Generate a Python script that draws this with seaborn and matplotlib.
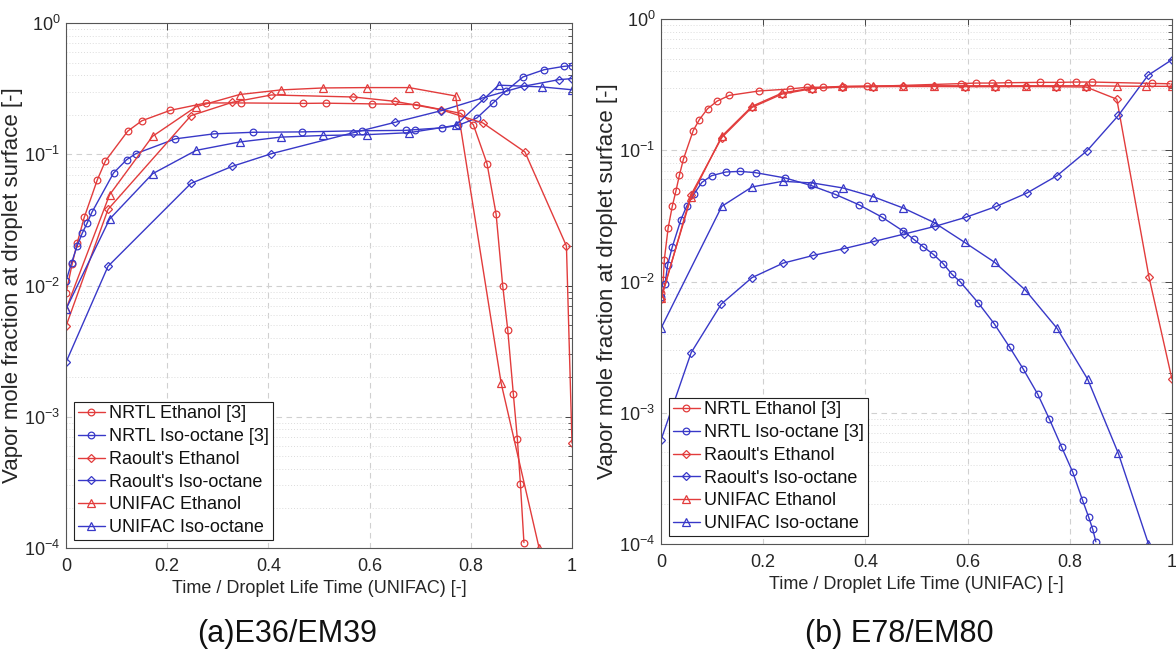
import numpy as np
import pandas as pd
import matplotlib
matplotlib.use("Agg")
import matplotlib.pyplot as plt
import seaborn as sns
from matplotlib.ticker import LogLocator, NullFormatter, FixedLocator

# ---------------- data: panel (a) E36/EM39 ----------------
a_nrtl_eth_x = [0.0, 0.012, 0.022, 0.036, 0.062, 0.078, 0.122, 0.15, 0.206, 0.277, 0.346, 0.469, 0.513,
                0.605, 0.692, 0.78, 0.805, 0.832, 0.85, 0.863, 0.873, 0.884, 0.892, 0.898, 0.905]
a_nrtl_eth_y = [0.0087, 0.0145, 0.021, 0.033, 0.064, 0.089, 0.15, 0.18, 0.216, 0.246, 0.246, 0.244, 0.245,
                0.242, 0.239, 0.205, 0.168, 0.085, 0.035, 0.010, 0.0046, 0.0015, 0.00068, 0.00031, 0.00011]
a_nrtl_iso_x = [0.0, 0.011, 0.022, 0.032, 0.042, 0.051, 0.094, 0.12, 0.138, 0.216, 0.292, 0.369, 0.466,
                0.584, 0.671, 0.69, 0.744, 0.775, 0.812, 0.844, 0.869, 0.903, 0.945, 0.985, 1.0]
a_nrtl_iso_y = [0.0108, 0.0149, 0.020, 0.025, 0.030, 0.036, 0.072, 0.091, 0.101, 0.131, 0.143, 0.147, 0.148,
                0.151, 0.152, 0.154, 0.159, 0.166, 0.189, 0.246, 0.302, 0.388, 0.441, 0.468, 0.473]
a_raoult_eth_x = [0.0, 0.083, 0.247, 0.329, 0.406, 0.568, 0.65, 0.742, 0.824, 0.907, 0.989, 1.0]
a_raoult_eth_y = [0.0049, 0.038, 0.197, 0.249, 0.283, 0.273, 0.253, 0.218, 0.173, 0.104, 0.020, 0.00063]
a_raoult_iso_x = [0.0, 0.083, 0.247, 0.329, 0.406, 0.568, 0.65, 0.742, 0.824, 0.905, 0.974, 1.0]
a_raoult_iso_y = [0.0026, 0.014, 0.060, 0.081, 0.101, 0.146, 0.175, 0.215, 0.269, 0.33, 0.37, 0.377]
a_unifac_eth_x = [0.0, 0.086, 0.171, 0.257, 0.343, 0.424, 0.508, 0.594, 0.678, 0.77, 0.86, 0.935]
a_unifac_eth_y = [0.0066, 0.049, 0.137, 0.23, 0.285, 0.309, 0.32, 0.322, 0.322, 0.278, 0.0018, 0.0001]
a_unifac_iso_x = [0.0, 0.086, 0.171, 0.257, 0.343, 0.424, 0.508, 0.594, 0.678, 0.77, 0.855, 0.94, 1.0]
a_unifac_iso_y = [0.0066, 0.032, 0.071, 0.107, 0.124, 0.135, 0.139, 0.141, 0.146, 0.166, 0.336, 0.326, 0.31]

# ---------------- data: panel (b) E78/EM80 ----------------
b_nrtl_eth_x = [0.0, 0.0045, 0.0065, 0.014, 0.022, 0.029, 0.036, 0.044, 0.063, 0.075, 0.091, 0.11, 0.134,
                0.192, 0.252, 0.285, 0.317, 0.356, 0.403, 0.588, 0.616, 0.647, 0.68, 0.742, 0.781, 0.813,
                0.843, 0.96, 0.996]
b_nrtl_eth_y = [0.0082, 0.0103, 0.0147, 0.0256, 0.0373, 0.0486, 0.0645, 0.0858, 0.141, 0.171, 0.207, 0.237,
                0.262, 0.283, 0.293, 0.302, 0.302, 0.305, 0.306, 0.322, 0.325, 0.325, 0.327, 0.329, 0.329,
                0.331, 0.331, 0.323, 0.321]
b_nrtl_iso_x = [0.0, 0.008, 0.013, 0.022, 0.039, 0.05, 0.065, 0.08, 0.099, 0.127, 0.155, 0.185, 0.243,
                0.293, 0.341, 0.387, 0.432, 0.474, 0.495, 0.513, 0.533, 0.552, 0.569, 0.585, 0.621, 0.652,
                0.682, 0.709, 0.737, 0.76, 0.784, 0.806, 0.825, 0.837, 0.845, 0.851]
b_nrtl_iso_y = [0.0076, 0.0096, 0.0134, 0.0183, 0.0296, 0.0373, 0.0467, 0.0569, 0.064, 0.0683, 0.069,
                0.0675, 0.0615, 0.054, 0.0461, 0.0385, 0.031, 0.0242, 0.0209, 0.0184, 0.0161, 0.0137,
                0.0114, 0.0100, 0.00686, 0.00477, 0.00317, 0.00215, 0.00139, 0.000896, 0.000548,
                0.000351, 0.000215, 0.00016, 0.000129, 0.000104]
b_raoult_eth_x = [0.0, 0.059, 0.119, 0.178, 0.237, 0.296, 0.355, 0.415, 0.474, 0.534, 0.594, 0.654, 0.714,
                  0.773, 0.832, 0.892, 0.955, 1.0]
b_raoult_eth_y = [0.0073, 0.046, 0.125, 0.212, 0.268, 0.295, 0.303, 0.305, 0.306, 0.306, 0.305, 0.305,
                  0.306, 0.305, 0.303, 0.245, 0.0108, 0.0018]
b_raoult_iso_x = [0.0, 0.059, 0.118, 0.178, 0.239, 0.298, 0.358, 0.417, 0.476, 0.536, 0.596, 0.656, 0.716,
                  0.775, 0.834, 0.895, 0.953, 1.0]
b_raoult_iso_y = [0.00062, 0.00287, 0.00674, 0.0107, 0.0138, 0.0158, 0.0178, 0.0202, 0.023, 0.0263,
                  0.0308, 0.0373, 0.0472, 0.064, 0.0993, 0.184, 0.372, 0.49]
b_unifac_eth_x = [0.0, 0.059, 0.119, 0.178, 0.237, 0.296, 0.355, 0.415, 0.474, 0.534, 0.594, 0.654, 0.714,
                  0.773, 0.832, 0.892, 0.95, 1.0]
b_unifac_eth_y = [0.0075, 0.044, 0.128, 0.216, 0.273, 0.298, 0.307, 0.309, 0.31, 0.31, 0.31, 0.31, 0.31,
                  0.31, 0.31, 0.308, 0.307, 0.307]
b_unifac_iso_x = [0.0, 0.119, 0.178, 0.238, 0.297, 0.356, 0.415, 0.474, 0.534, 0.594, 0.653, 0.713, 0.775,
                  0.835, 0.895, 0.954]
b_unifac_iso_y = [0.0044, 0.0374, 0.0525, 0.058, 0.0563, 0.0516, 0.0443, 0.0363, 0.0282, 0.0199, 0.014,
                  0.0086, 0.0044, 0.0018, 0.00049, 0.0001]

labels = ["NRTL Ethanol [3]", "NRTL Iso-octane [3]", "Raoult's Ethanol", "Raoult's Iso-octane",
          "UNIFAC Ethanol", "UNIFAC Iso-octane"]
x_ticks = [0, 0.2, 0.4, 0.6, 0.8, 1.0]
x_tick_labels = ["0", "0.2", "0.4", "0.6", "0.8", "1"]
captions = ["(a)E36/EM39", "(b) E78/EM80"]
xlabel = "Time / Droplet Life Time (UNIFAC) [-]"
ylabel = "Vapor mole fraction at droplet surface [-]"

RED = "#e23c3c"
BLUE = "#3838c8"

sns.set_theme(style="white")
plt.rcParams['font.family'] = ['Liberation Sans', 'DejaVu Sans']
plt.rcParams['mathtext.fontset'] = 'custom'
plt.rcParams['mathtext.rm'] = 'Liberation Sans'
plt.rcParams['mathtext.it'] = 'Liberation Sans:italic'
plt.rcParams['mathtext.bf'] = 'Liberation Sans:bold'

fig = plt.figure(figsize=(11.76, 6.55), dpi=100)
axA = fig.add_axes([66 / 1176, 1 - 548 / 655, 506 / 1176, 525 / 655])
axB = fig.add_axes([661 / 1176, 1 - 544 / 655, 511 / 1176, 525 / 655])

panels = [
    (axA, [(a_nrtl_eth_x, a_nrtl_eth_y), (a_nrtl_iso_x, a_nrtl_iso_y), (a_raoult_eth_x, a_raoult_eth_y),
           (a_raoult_iso_x, a_raoult_iso_y), (a_unifac_eth_x, a_unifac_eth_y), (a_unifac_iso_x, a_unifac_iso_y)]),
    (axB, [(b_nrtl_eth_x, b_nrtl_eth_y), (b_nrtl_iso_x, b_nrtl_iso_y), (b_raoult_eth_x, b_raoult_eth_y),
           (b_raoult_iso_x, b_raoult_iso_y), (b_unifac_eth_x, b_unifac_eth_y), (b_unifac_iso_x, b_unifac_iso_y)]),
]
colors = [RED, BLUE, RED, BLUE, RED, BLUE]
markers = ["o", "o", "D", "D", "^", "^"]
msizes = [4.8, 4.8, 3.9, 3.9, 5.6, 5.6]

for ax, series in panels:
    for (xs, ys), lab, c, m, ms in zip(series, labels, colors, markers, msizes):
        df = pd.DataFrame({"x": xs, "y": ys})
        sns.lineplot(data=df, x="x", y="y", ax=ax, color=c, marker=m, markersize=ms,
                     markerfacecolor="none", markeredgecolor=c, markeredgewidth=0.9,
                     linewidth=1.0, label=lab, estimator=None, sort=False, clip_on=True)
    ax.set_yscale("log")
    ax.set_xlim(0, 1)
    ax.set_ylim(1e-4, 1)
    ax.xaxis.set_major_locator(FixedLocator(x_ticks))
    ax.set_xticklabels(x_tick_labels)
    ax.yaxis.set_major_locator(LogLocator(base=10, numticks=10))
    ax.yaxis.set_minor_locator(LogLocator(base=10, subs=np.arange(2, 10), numticks=20))
    ax.yaxis.set_minor_formatter(NullFormatter())
    ax.tick_params(which="both", direction="in", top=True, right=True, colors="#444444",
                   labelcolor="#262626", labelsize=13)
    ax.tick_params(which="major", length=5, width=0.7)
    ax.tick_params(which="minor", length=2.8, width=0.6)
    ax.tick_params(axis="x", pad=7)
    ax.tick_params(axis="y", pad=4)
    ax.grid(True, which="major", linestyle=(0, (5, 4)), color="#d0d0d0", linewidth=0.8)
    ax.grid(True, which="minor", axis="y", linestyle=(0, (1, 2)), color="#dcdcdc", linewidth=0.7)
    ax.set_axisbelow(True)
    for sp in ax.spines.values():
        sp.set_color("#555555")
        sp.set_linewidth(0.8)
    ax.set_xlabel(xlabel, fontsize=13, color="#262626", labelpad=4)
    ax.set_ylabel(ylabel, fontsize=16, color="#262626", labelpad=1)
    leg = ax.legend(loc="lower left", fontsize=13, frameon=True, fancybox=False, framealpha=1,
                    edgecolor="#222222", borderpad=0.2, labelspacing=0.32, handlelength=1.5,
                    handletextpad=0.25, borderaxespad=0.45)
    leg.get_frame().set_linewidth(0.8)
    for t in leg.get_texts():
        t.set_color("#111111")

fig.text(287 / 1176, 1 - 634 / 655, captions[0], fontsize=22, ha="center", va="center", color="#111111")
fig.text(899 / 1176, 1 - 634 / 655, captions[1], fontsize=22, ha="center", va="center", color="#111111")

fig.savefig("out.png", dpi=100)
